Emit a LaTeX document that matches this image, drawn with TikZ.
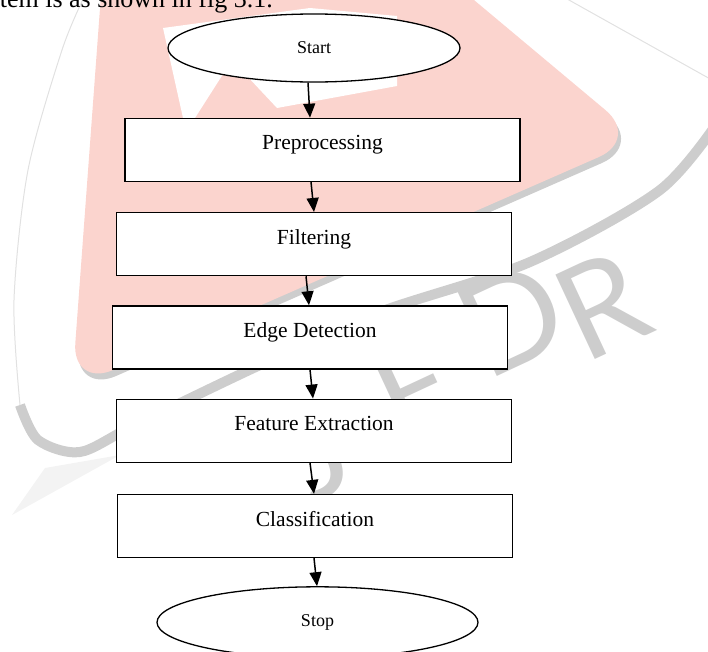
\documentclass[tikz,border=0pt]{standalone}
\usepackage{fontspec}
\setmainfont{Liberation Serif}
\setsansfont{Lato}
\usetikzlibrary{arrows.meta}
\usetikzlibrary{positioning}
\usetikzlibrary{shapes}

\definecolor{wmpink}{RGB}{251,212,206}
\definecolor{wmgrey}{RGB}{205,205,205}

\begin{document}
\begin{tikzpicture}[x=1pt,y=-1pt,
    process/.style={draw,line width=1.3pt,fill=white,minimum width=395pt,minimum height=63pt,
      text height=15pt,text depth=15pt,inner sep=0pt,font=\fontsize{21.5}{21.5}\selectfont},
    terminal/.style={draw,ellipse,line width=1.3pt,fill=white,inner sep=0pt,font=\fontsize{18}{18}\selectfont},
    flow/.style={line width=1.5pt,-{Triangle[length=14pt,width=12pt]}},
    wmletter/.style={text=wmgrey,inner sep=0pt,font=\sffamily\fontsize{130}{130}\selectfont,rotate=25}]
      \useasboundingbox (0,0) rectangle (708,651);
      % watermark in the background
      \draw[wmgrey,line width=10pt] plot[smooth] coordinates {(722,116) (660,190) (530,262) (380,312) (260,365) (135,425) (80,452) (38,440) (20,405)};
      \draw[wmgrey!60,line width=1pt] plot[smooth] coordinates {(20,405) (14,300) (28,170) (62,50) (85,-5)};
      \draw[wmgrey!60,line width=1pt] (560,-5) -- (712,80);
      \fill[wmgrey!25] (12,515) -- (120,455) -- (45,468) -- cycle;
      \fill[wmgrey,rounded corners=45pt] (107,-40) -- (75,394) -- (643,145) -- (422,-40) -- cycle;
      \fill[wmpink,rounded corners=45pt] (104,-46) -- (72,388) -- (640,139) -- (419,-46) -- cycle;
      \fill[white] (163,28) -- (310,8) -- (397,16) -- (397,86) -- (277,108) -- (232,60) -- (195,118) -- (183,118) -- cycle;
      \node[wmletter] (wmj) at (318,450) {J};
      \node[wmletter] (wme) at (415,388) {E};
      \node[wmletter] (wmd) at (512,318) {D};
      \node[wmletter] (wmr) at (602,305) {R};
      % text above the chart
      \node[anchor=base east,inner sep=0pt,font=\fontsize{26}{26}\selectfont] (caption) at (273,7) {tem is as shown in fig 3.1.};
      % flow chart
      \node[terminal,minimum width=292pt,minimum height=68pt] (start) at (314,48) {Start};
      \node[process,below=35pt of start,xshift=8.5pt] (prep) {Preprocessing};
      \node[process,below=30pt of prep,xshift=-8.5pt] (filt) {Filtering};
      \node[process,below=29pt of filt,xshift=-4pt] (edge) {Edge Detection};
      \node[process,below=29pt of edge,xshift=4pt] (feat) {Feature Extraction};
      \node[process,below=31pt of feat,xshift=1pt] (class) {Classification};
      \node[terminal,minimum width=321pt,minimum height=71pt,below=28pt of class,xshift=2.5pt] (stop) {Stop};
      \draw[flow] ([xshift=-6pt]start.south) -- ([xshift=-12.5pt]prep.north);
      \draw[flow] ([xshift=-11.5pt]prep.south) -- (filt.north);
      \draw[flow] ([xshift=-8pt]filt.south) -- ([xshift=-1pt]edge.north);
      \draw[flow] (edge.south) -- ([xshift=-1pt]feat.north);
      \draw[flow] ([xshift=-4pt]feat.south) -- ([xshift=-1pt]class.north);
      \draw[flow] ([xshift=-1pt]class.south) -- ([xshift=-0.5pt]stop.north);
\end{tikzpicture}
\end{document}
